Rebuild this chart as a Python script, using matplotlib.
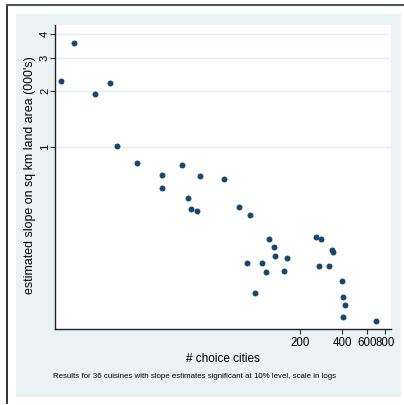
import numpy as np
import matplotlib
matplotlib.use('Agg')
import matplotlib.pyplot as plt
from matplotlib.patches import Rectangle
from matplotlib.lines import Line2D

# number of choice cities per cuisine and the estimated slope (000's)
choice_cities = [4.11, 5.11, 7.15, 9.18, 10.2, 14.2, 21.4, 21.4, 29.3, 39.5,
                 32.3, 34.3, 37.6, 58.3, 74.5, 89.5, 84.9, 120.8, 132.3, 134.5,
                 161.9, 108.8, 115.6, 155.6, 96.6, 259.4, 281.4, 340.0, 341.0,
                 272.4, 322.0, 396.0, 404.6, 418.0, 406.0, 692.0]
slope_est = [2.24, 3.58, 1.91, 2.20, 1.01, 0.815, 0.705, 0.601, 0.798, 0.694,
             0.529, 0.466, 0.453, 0.674, 0.474, 0.431, 0.238, 0.320, 0.291, 0.260,
             0.254, 0.238, 0.213, 0.216, 0.165, 0.330, 0.321, 0.280, 0.272,
             0.229, 0.229, 0.192, 0.156, 0.1425, 0.1224, 0.117]

xticks = [200, 400, 600, 800]
yticks = [1, 2, 3, 4]

BG = '#EAF2F3'
NAVY = '#1A476F'
NARROW = ['Liberation Sans Narrow', 'Liberation Sans', 'DejaVu Sans']
REGULAR = ['Liberation Sans', 'DejaVu Sans']

fig = plt.figure(figsize=(4.04, 4.05), dpi=100)
fig.patch.set_facecolor('white')

# graph region (light bluish-gray) and outer frame
fig.patches.append(Rectangle((16 / 404, 1 - 397 / 405), 385 / 404, 383 / 405,
                             transform=fig.transFigure, facecolor=BG,
                             edgecolor='none', zorder=-10))
fig.lines.append(Line2D([7 / 404, 7 / 404], [1 - 5 / 405, 1 - 403 / 405],
                        transform=fig.transFigure, color='#111111', lw=1.2))
fig.lines.append(Line2D([7 / 404, 1.0], [1 - 5 / 405, 1 - 5 / 405],
                        transform=fig.transFigure, color='#555555', lw=1.5))

ax = fig.add_axes([55 / 404, 1 - 329 / 405, 336 / 404, 304 / 405])
ax.set_facecolor('white')
ax.set_xscale('log')
ax.set_yscale('log')
ax.set_xlim(3.73, 883)
ax.set_ylim(0.1056, 4.49)

for v in yticks:
    ax.axhline(v, color='#E3ECEE', lw=1.0, zorder=0)

ax.plot(choice_cities, slope_est, 'o', color=NAVY, markersize=4.3,
        markeredgewidth=0, zorder=3)

ax.xaxis.set_minor_locator(matplotlib.ticker.NullLocator())
ax.yaxis.set_minor_locator(matplotlib.ticker.NullLocator())
ax.set_xticks(xticks)
ax.set_xticklabels([str(t) for t in xticks], family=NARROW, fontsize=8.3)
ax.set_yticks(yticks)
ax.set_yticklabels([str(t) for t in yticks], family=NARROW, fontsize=8.0,
                   rotation=90, va='center')
ax.tick_params(axis='both', direction='out', length=3.6, width=0.8,
               color='#333333')
ax.tick_params(axis='x', pad=2)
ax.tick_params(axis='y', pad=0)

for side in ['top', 'right']:
    ax.spines[side].set_visible(False)
for side in ['left', 'bottom']:
    ax.spines[side].set_color('#222222')
    ax.spines[side].set_linewidth(1.0)

fig.text(223 / 404, 1 - 359 / 405, '# choice cities', family=NARROW,
         fontsize=8.5, ha='center', va='center')
fig.text(30 / 404, 1 - 175 / 405, "estimated slope on sq km land area (000's)",
         family=REGULAR, fontsize=8.9, rotation=90, ha='center', va='center')
fig.text(53 / 404, 1 - 376 / 405,
         'Results for 36 cuisines with slope estimates significant at 10% level, scale in logs',
         family=NARROW, fontsize=5.7, ha='left', va='center')

fig.savefig('out.png', dpi=100, facecolor=fig.get_facecolor())
